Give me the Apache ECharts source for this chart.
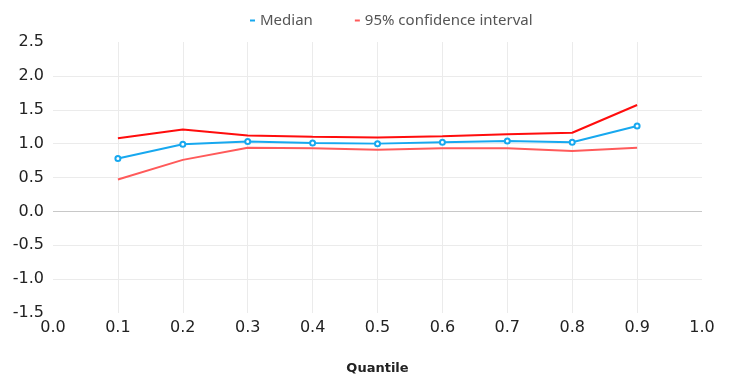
<!DOCTYPE html>
<html><head><meta charset="utf-8">
<script src="https://cdn.jsdelivr.net/npm/echarts@6/dist/echarts.min.js"></script>
<style>html,body{margin:0;padding:0;background:#fff}#c{width:732px;height:376px}</style>
</head><body><div id="c"></div>
<script>
const quantiles = [0.1, 0.2, 0.3, 0.4, 0.5, 0.6, 0.7, 0.8, 0.9];
const median = [0.78, 0.99, 1.03, 1.01, 1.00, 1.02, 1.04, 1.02, 1.26];
const ciUpper = [1.08, 1.21, 1.12, 1.10, 1.09, 1.11, 1.14, 1.16, 1.57];
const ciLower = [0.47, 0.76, 0.94, 0.93, 0.91, 0.93, 0.93, 0.89, 0.94];
const legendNames = ['Median', '95% confidence interval'];
const xTitle = 'Quantile';

const pairs = (ys) => quantiles.map((q, i) => [q, ys[i]]);
const chart = echarts.init(document.getElementById('c'), null, {renderer: 'canvas'});
chart.setOption({
  animation: false,
  backgroundColor: '#fff',
  legend: {
    data: legendNames,
    top: 8,
    left: 245,
    icon: 'rect',
    itemWidth: 5,
    itemHeight: 2,
    itemGap: 42,
    textStyle: {fontFamily: 'Noto Sans', fontSize: 15, color: '#555'}
  },
  grid: {left: 53, right: 30, top: 42, bottom: 63, outerBoundsMode: 'none', containLabel: false},
  xAxis: {
    type: 'value', min: 0, max: 1, interval: 0.1,
    name: xTitle, nameLocation: 'middle', nameGap: 49,
    nameTextStyle: {fontFamily: 'DejaVu Sans', fontSize: 13, fontWeight: 'bold', color: '#222'},
    axisLine: {show: false}, axisTick: {show: false},
    axisLabel: {fontFamily: 'DejaVu Sans', fontSize: 16, color: '#222', margin: 7,
      formatter: v => v.toFixed(1)},
    splitLine: {show: true, showMinLine: false, showMaxLine: false, lineStyle: {color: '#ebebeb', width: 1}}
  },
  yAxis: {
    type: 'value', min: -1.5, max: 2.5, interval: 0.5,
    axisLine: {show: false}, axisTick: {show: false},
    axisLabel: {fontFamily: 'DejaVu Sans', fontSize: 16, color: '#222', margin: 9,
      formatter: v => v.toFixed(1)},
    splitLine: {show: true, showMinLine: false, showMaxLine: false, lineStyle: {color: '#ebebeb', width: 1}}
  },
  series: [
    {
      name: legendNames[0], type: 'line', data: pairs(median),
      color: '#17a8ef', lineStyle: {width: 2, color: '#17a8ef'},
      symbol: 'emptyCircle', symbolSize: 5, showSymbol: true,
      itemStyle: {color: '#17a8ef', borderWidth: 1.5},
      z: 5,
      markLine: {silent: true, symbol: 'none', label: {show: false},
        lineStyle: {color: '#c8c8c8', width: 1, type: 'solid'},
        data: [{yAxis: 0}]}
    },
    {
      name: legendNames[1], type: 'line', data: pairs(ciLower),
      color: '#ff5a5a', lineStyle: {width: 2, color: '#ff5a5a'},
      showSymbol: false, symbol: 'none', z: 3
    },
    {
      name: legendNames[1], type: 'line', data: pairs(ciUpper),
      color: '#ff1010', lineStyle: {width: 2, color: '#ff0d0d'},
      showSymbol: false, symbol: 'none', z: 4
    }
  ]
});
</script></body></html>
